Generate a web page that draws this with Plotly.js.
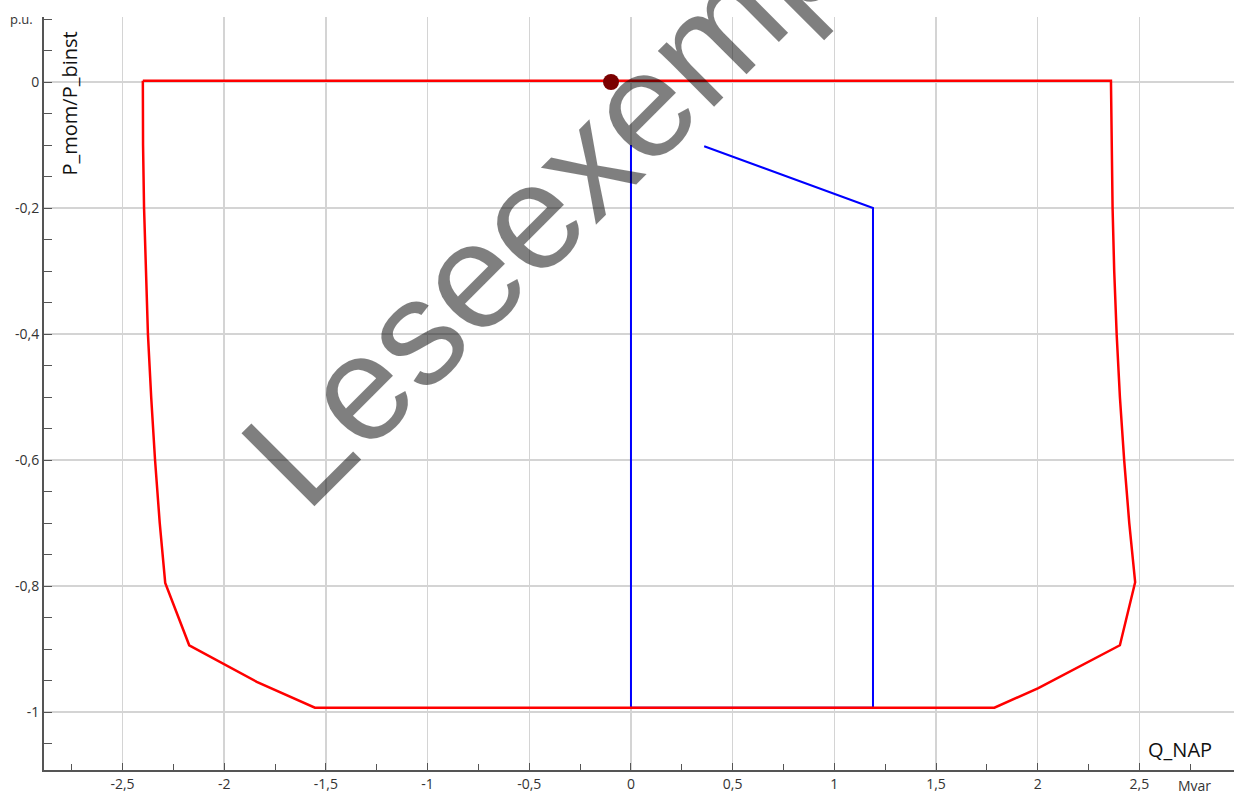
<!DOCTYPE html>
<html>
<head>
<meta charset="utf-8">
<script src="https://cdn.plot.ly/plotly-3.0.1.min.js"></script>
<style>
  html, body { margin: 0; padding: 0; background: #ffffff; }
  #chart { width: 1234px; height: 796px; }
</style>
</head>
<body>
<div id="chart"></div>
<script>
// Capability envelope (red): reactive power Q_NAP [Mvar] vs. P_mom/P_binst [p.u.]
const envelopeQ = [-2.40, -2.399, -2.394, -2.386, -2.375, -2.359, -2.34, -2.317, -2.29,
                   -2.172, -1.996, -1.84, -1.554,
                   1.787, 2.003, 2.207, 2.404,
                   2.479, 2.450, 2.425, 2.404, 2.388, 2.376, 2.368, 2.363, 2.36, -2.40];
const envelopeP = [0.002, -0.1, -0.2, -0.3, -0.4, -0.5, -0.6, -0.7, -0.795,
                   -0.894, -0.925, -0.952, -0.993,
                   -0.993, -0.962, -0.928, -0.894,
                   -0.794, -0.7, -0.6, -0.5, -0.4, -0.3, -0.2, -0.1, 0.002, 0.002];

// Required operating range (blue)
const rangeQ = [0.36, 1.19, 1.19, 0, 0];
const rangeP = [-0.102, -0.2, -0.993, -0.993, -0.1];

// Current operating point
const pointQ = [-0.098];
const pointP = [0];

// Tick labels (comma decimal, plain hyphen minus)
const xTickVals = [-2.5, -2, -1.5, -1, -0.5, 0, 0.5, 1, 1.5, 2, 2.5];
const xTickText = ['-2,5', '-2', '-1,5', '-1', '-0,5', '0', '0,5', '1', '1,5', '2', '2,5'];
const yTickVals = [0, -0.2, -0.4, -0.6, -0.8, -1];
const yTickText = ['0', '-0,2', '-0,4', '-0,6', '-0,8', '-1'];

const tickFont = { family: 'Open Sans, sans-serif', size: 14, color: '#333333' };
const nameFont = { family: 'Open Sans, sans-serif', size: 20, color: '#111111' };

const traces = [
  {
    x: rangeQ, y: rangeP, type: 'scatter', mode: 'lines',
    line: { color: '#0000ff', width: 2 }, hoverinfo: 'skip'
  },
  {
    x: envelopeQ, y: envelopeP, type: 'scatter', mode: 'lines',
    line: { color: '#ff0000', width: 2.5 }, hoverinfo: 'skip'
  },
  {
    x: pointQ, y: pointP, type: 'scatter', mode: 'markers',
    marker: { color: '#7a0000', size: 16 }, hoverinfo: 'skip'
  }
];

const axisCommon = {
  showline: true, linecolor: '#555555', linewidth: 2,
  ticks: 'inside', ticklen: 7, tickcolor: '#555555', tickwidth: 1,
  showgrid: true, gridcolor: '#d4d4d4', gridwidth: 1.5,
  zeroline: false, tickfont: tickFont, fixedrange: true
};

const layout = {
  width: 1234, height: 796,
  margin: { l: 44, r: 0, t: 17, b: 26 },
  paper_bgcolor: '#ffffff', plot_bgcolor: '#ffffff',
  showlegend: false,
  separators: ', ',
  xaxis: Object.assign({}, axisCommon, {
    range: [-2.886, 2.965],
    tickmode: 'array', tickvals: xTickVals, ticktext: xTickText,
    minor: { tickmode: 'linear', tick0: 0.25, dtick: 0.5, ticks: 'inside', ticklen: 6,
             tickcolor: '#555555', showgrid: false }
  }),
  yaxis: Object.assign({}, axisCommon, {
    range: [-1.092, 0.1032],
    tickmode: 'array', tickvals: yTickVals, ticktext: yTickText,
    minor: { tickmode: 'linear', tick0: 0, dtick: 0.05, ticks: 'inside', ticklen: 8,
             tickcolor: '#555555', showgrid: false }
  }),
  annotations: [
    { text: 'p.u.', xref: 'paper', yref: 'paper', x: -0.0185, y: 0.997,
      xanchor: 'center', yanchor: 'middle', showarrow: false,
      font: { family: 'Open Sans, sans-serif', size: 13, color: '#333333' } },
    { text: 'P_mom/P_binst', xref: 'paper', yref: 'paper', x: 0.0218, y: 0.885,
      xanchor: 'center', yanchor: 'middle', textangle: -90, showarrow: false, font: nameFont },
    { text: 'Q_NAP', xref: 'paper', yref: 'paper', x: 0.955, y: 0.027,
      xanchor: 'center', yanchor: 'middle', showarrow: false, font: nameFont },
    { text: 'Mvar', xref: 'paper', yref: 'paper', x: 0.967, y: -0.021,
      xanchor: 'center', yanchor: 'middle', showarrow: false,
      font: { family: 'Open Sans, sans-serif', size: 14, color: '#333333' } },
    // Reading-copy stamp across the chart
    { text: 'Leseexemplar', xref: 'paper', yref: 'paper', x: 0.469, y: 0.830,
      xanchor: 'center', yanchor: 'middle', textangle: -45, showarrow: false,
      font: { family: 'Liberation Sans, Arial, sans-serif', size: 150, color: 'rgba(0,0,0,0.5)' } }
  ]
};

Plotly.newPlot('chart', traces, layout, { staticPlot: true, displayModeBar: false });
</script>
</body>
</html>
